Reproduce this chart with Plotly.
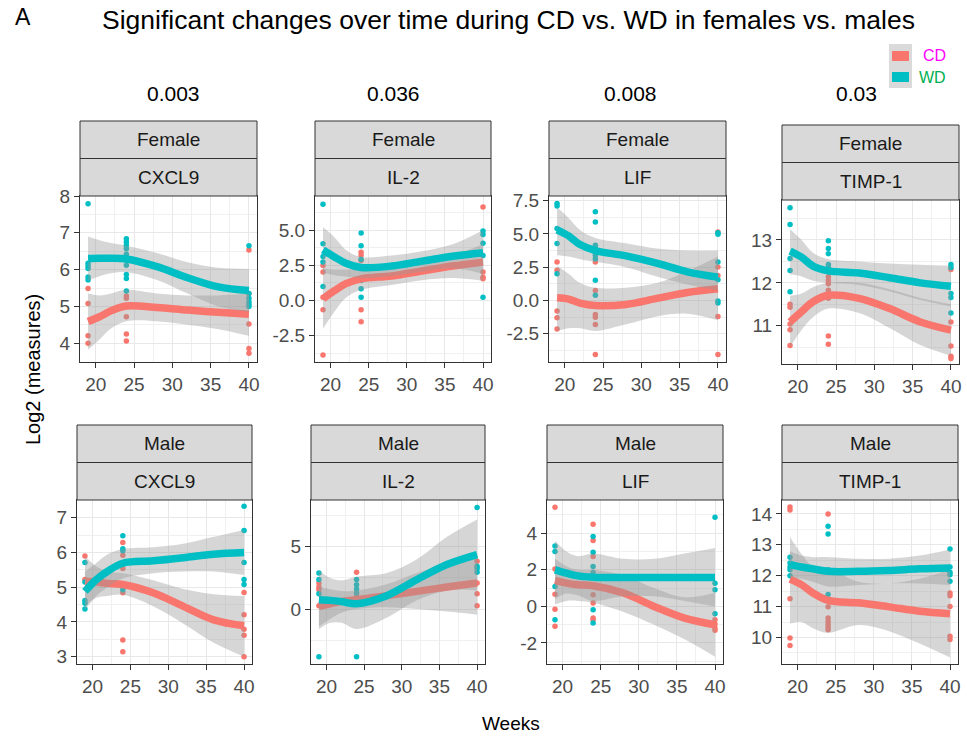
import plotly.graph_objects as go

# ---------------- data ----------------
WEEKS = [19, 24, 40]
FIT_WEEKS = [19, 20.5, 22, 24, 28, 32, 36, 40]
X_TICKS = [20, 25, 30, 35, 40]

# Female CXCL9
F_CXCL9_CD = [[5.49, 5.08, 4.2, 4.0], [5.28, 5.22, 4.72, 4.25, 4.06], [6.53, 5.35, 4.52, 3.86, 3.73]]
F_CXCL9_WD = [[7.79, 6.17, 6.1, 6.03, 5.8, 5.72], [6.84, 6.75, 6.66, 6.57, 6.42, 6.26, 6.12, 5.87, 5.76, 5.42], [6.65, 5.35, 5.22, 5.13, 5.06, 5.0]]
F_CXCL9_CD_FIT = [4.59, 4.72, 4.88, 5.01, 4.97, 4.9, 4.84, 4.79]
F_CXCL9_CD_LO = [3.82, 4.1, 4.4, 4.6, 4.6, 4.5, 4.38, 4.2]
F_CXCL9_CD_HI = [5.35, 5.3, 5.35, 5.45, 5.35, 5.3, 5.3, 5.35]
F_CXCL9_WD_FIT = [6.30, 6.31, 6.31, 6.29, 6.08, 5.78, 5.53, 5.43]
F_CXCL9_WD_LO = [5.7, 5.82, 5.9, 5.93, 5.72, 5.35, 5.0, 4.85]
F_CXCL9_WD_HI = [6.9, 6.8, 6.72, 6.65, 6.45, 6.2, 6.05, 6.02]

# Female IL-2
F_IL2_CD = [[2.49, 2.02, 0.24, -0.66, -3.87], [3.44, 3.2, 2.85, 2.37, -0.66, -1.5], [6.65, 2.02, 1.66, 1.54]]
F_IL2_WD = [[6.84, 4.04, 3.13, 2.73, 1.0], [4.8, 3.9, 2.92, 1.43, 0.83, 0.24], [4.94, 4.7, 4.08, 3.2, 0.24]]
F_IL2_CD_FIT = [0.12, 0.7, 1.2, 1.54, 1.75, 2.1, 2.45, 2.73]
F_IL2_CD_LO = [-2.0, -0.8, 0.2, 0.75, 1.1, 1.45, 1.6, 1.4]
F_IL2_CD_HI = [2.3, 2.2, 2.2, 2.3, 2.4, 2.7, 3.2, 4.0]
F_IL2_WD_FIT = [3.6, 3.1, 2.65, 2.35, 2.45, 2.8, 3.15, 3.4]
F_IL2_WD_LO = [2.0, 1.8, 1.7, 1.6, 1.75, 2.05, 2.3, 1.9]
F_IL2_WD_HI = [5.2, 4.5, 3.6, 3.1, 3.2, 3.5, 4.0, 5.0]

# Female LIF
F_LIF_CD = [[2.89, 2.26, -0.8, -1.31, -2.14], [2.89, 0.75, -1.06, -1.26, -1.81, -4.07], [5.15, 2.51, 1.88, -1.2, -4.07]]
F_LIF_WD = [[7.29, 7.09, 5.4, 4.27, 2.01], [6.66, 5.9, 4.15, 3.9, 3.64, 3.39, 3.14, 1.51, 0.38], [5.08, 4.97, 2.89, 1.56, -0.05, -0.2]]
F_LIF_CD_FIT = [0.2, 0.1, -0.2, -0.38, -0.3, 0.15, 0.6, 0.88]
F_LIF_CD_LO = [-2.3, -2.1, -2.1, -2.3, -1.8, -1.2, -1.0, -1.5]
F_LIF_CD_HI = [2.6, 2.0, 1.3, 0.95, 0.95, 1.3, 2.2, 3.3]
F_LIF_WD_FIT = [5.3, 4.85, 4.2, 3.75, 3.35, 2.8, 2.15, 1.75]
F_LIF_WD_LO = [3.4, 3.3, 3.1, 2.9, 2.5, 1.8, 1.2, 0.75]
F_LIF_WD_HI = [7.0, 6.2, 5.3, 4.7, 4.3, 3.9, 3.75, 3.75]

# Female TIMP-1
F_TIMP1_CD = [[11.5, 11.43, 11.04, 10.91, 10.54], [12.14, 12.06, 11.98, 11.83, 11.64, 10.76, 10.57], [12.31, 11.09, 10.53, 10.29, 10.24]]
F_TIMP1_WD = [[13.75, 13.36, 12.57, 12.29, 11.79], [12.98, 12.8, 12.68, 12.43, 12.36, 12.26], [12.43, 12.36, 11.75, 11.66, 11.3]]
F_TIMP1_CD_FIT = [11.09, 11.33, 11.56, 11.71, 11.64, 11.4, 11.09, 10.9]
F_TIMP1_CD_LO = [10.5, 10.9, 11.2, 11.4, 11.3, 10.95, 10.55, 10.3]
F_TIMP1_CD_HI = [11.7, 11.75, 11.9, 12.0, 12.0, 11.85, 11.65, 11.5]
F_TIMP1_WD_FIT = [12.74, 12.6, 12.39, 12.28, 12.23, 12.12, 12.0, 11.92]
F_TIMP1_WD_LO = [12.2, 12.15, 12.05, 12.0, 11.95, 11.8, 11.6, 11.45]
F_TIMP1_WD_HI = [13.25, 13.0, 12.7, 12.55, 12.5, 12.45, 12.42, 12.4]

# Male CXCL9
M_CXCL9_CD = [[5.9, 5.22], [6.29, 5.92, 5.54, 4.84, 3.48, 3.14], [4.85, 4.21, 3.79, 3.62, 3.0]]
M_CXCL9_WD = [[5.71, 5.15, 4.62, 4.54, 4.37], [6.48, 6.11, 6.05, 4.93], [7.33, 6.63, 5.71, 5.22, 5.08]]
M_CXCL9_CD_FIT = [5.17, 5.15, 5.11, 5.08, 4.84, 4.45, 4.06, 3.89]
M_CXCL9_CD_LO = [4.45, 4.7, 4.75, 4.78, 4.45, 3.95, 3.4, 3.0]
M_CXCL9_CD_HI = [5.9, 5.6, 5.45, 5.4, 5.2, 4.95, 4.8, 4.75]
M_CXCL9_WD_FIT = [4.88, 5.22, 5.46, 5.69, 5.76, 5.85, 5.95, 6.0]
M_CXCL9_WD_LO = [4.35, 4.75, 5.0, 5.25, 5.4, 5.45, 5.45, 5.35]
M_CXCL9_WD_HI = [5.45, 5.7, 5.95, 6.1, 6.15, 6.25, 6.45, 6.65]

# Male IL-2
M_IL2_CD = [[2.1, 1.77, 1.56, 0.27], [2.96, 1.02], [3.84, 2.1, 1.24, 0.27]]
M_IL2_WD = [[2.9, 2.37, 1.24, -3.82], [2.37, 1.96, 1.61, 1.29, -3.82], [8.15, 3.44, 3.23, 2.96]]
M_IL2_CD_FIT = [0.22, 0.43, 0.62, 0.75, 1.08, 1.42, 1.77, 2.1]
M_IL2_CD_LO = [-1.4, -0.8, -0.3, 0.0, 0.15, 0.0, -0.2, -0.45]
M_IL2_CD_HI = [1.8, 1.6, 1.45, 1.5, 2.0, 2.9, 3.7, 4.5]
M_IL2_WD_FIT = [0.75, 0.7, 0.6, 0.43, 1.08, 2.37, 3.58, 4.38]
M_IL2_WD_LO = [-1.6, -1.1, -1.1, -1.6, -0.7, 0.7, 1.5, 1.5]
M_IL2_WD_HI = [3.1, 2.5, 2.3, 2.6, 2.9, 4.0, 5.8, 7.2]

# Male LIF
M_LIF_CD = [[5.42, 2.04, 0.67, -0.15, -1.09], [4.49, 3.6, 2.73, 0.64, 0.18, -0.64, -0.73], [-0.73, -0.96, -1.18, -1.31]]
M_LIF_WD = [[3.31, 3.0, 1.09, -0.73], [3.82, 2.96, 2.18, 1.85, -0.18, -0.91], [4.87, 1.27, 0.91, -0.4]]
M_LIF_CD_FIT = [1.42, 1.27, 1.18, 1.13, 0.73, 0.0, -0.64, -1.0]
M_LIF_CD_LO = [0.1, 0.3, 0.3, 0.2, -0.3, -1.0, -1.8, -2.75]
M_LIF_CD_HI = [2.6, 2.2, 2.0, 2.0, 1.7, 1.0, 0.5, 0.75]
M_LIF_WD_FIT = [2.0, 1.82, 1.67, 1.6, 1.58, 1.58, 1.58, 1.58]
M_LIF_WD_LO = [0.4, 0.7, 0.6, 0.3, 0.55, 0.55, 0.3, 0.0]
M_LIF_WD_HI = [3.6, 3.0, 2.75, 2.9, 2.6, 2.6, 2.9, 3.2]

# Male TIMP-1
M_TIMP1_CD = [[14.22, 14.13, 11.25, 9.98, 9.74], [14.0, 10.99, 10.63, 10.52, 10.42, 10.34, 10.25], [11.44, 11.35, 11.0, 10.04, 9.93]]
M_TIMP1_WD = [[12.6, 12.41, 12.28, 12.19, 12.0], [13.6, 13.35, 12.19, 11.39], [12.86, 12.28, 12.11, 12.03, 11.82]]
M_TIMP1_CD_FIT = [11.89, 11.71, 11.44, 11.2, 11.12, 10.99, 10.85, 10.77]
M_TIMP1_CD_LO = [10.45, 10.5, 10.3, 10.15, 10.4, 10.2, 9.8, 9.35]
M_TIMP1_CD_HI = [13.25, 12.7, 12.3, 12.25, 11.8, 11.75, 11.9, 12.2]
M_TIMP1_WD_FIT = [12.36, 12.28, 12.22, 12.14, 12.14, 12.17, 12.22, 12.25]
M_TIMP1_WD_LO = [11.95, 11.9, 11.8, 11.65, 11.7, 11.75, 11.75, 11.7]
M_TIMP1_WD_HI = [12.8, 12.65, 12.6, 12.6, 12.55, 12.55, 12.65, 12.85]

P_VALUES = ["0.003", "0.036", "0.008", "0.03"]

# y tick values per panel
T1_YT = [4, 5, 6, 7, 8]
T2_YT = [-2.5, 0, 2.5, 5]
T3_YT = [-2.5, 0, 2.5, 5, 7.5]
T4_YT = [11, 12, 13]
B1_YT = [3, 4, 5, 6, 7]
B2_YT = [0, 5]
B3_YT = [-2, 0, 2, 4]
B4_YT = [10, 11, 12, 13, 14]

# ---------------- styling / layout ----------------
W, H = 967, 739
CD_COL = "#F8766D"
WD_COL = "#00BFC4"
RIB = "rgba(153,153,153,0.4)"
FONT = "Liberation Sans, Arial, sans-serif"


def px(x):
    return x / W


def py(y):
    return 1 - y / H


panels = [
    ("Female", "CXCL9", F_CXCL9_CD, F_CXCL9_WD,
     (F_CXCL9_CD_FIT, F_CXCL9_CD_LO, F_CXCL9_CD_HI, F_CXCL9_WD_FIT, F_CXCL9_WD_LO, F_CXCL9_WD_HI),
     [3.49, 8.0], T1_YT, 0, (80, 257, 196, 362), 121),
    ("Female", "IL-2", F_IL2_CD, F_IL2_WD,
     (F_IL2_CD_FIT, F_IL2_CD_LO, F_IL2_CD_HI, F_IL2_WD_FIT, F_IL2_WD_LO, F_IL2_WD_HI),
     [-4.37, 7.43], T2_YT, 1, (315, 491, 196, 362), 121),
    ("Female", "LIF", F_LIF_CD, F_LIF_WD,
     (F_LIF_CD_FIT, F_LIF_CD_LO, F_LIF_CD_HI, F_LIF_WD_FIT, F_LIF_WD_LO, F_LIF_WD_HI),
     [-4.63, 7.85], T3_YT, 1, (549, 726, 196, 362), 121),
    ("Female", "TIMP-1", F_TIMP1_CD, F_TIMP1_WD,
     (F_TIMP1_CD_FIT, F_TIMP1_CD_LO, F_TIMP1_CD_HI, F_TIMP1_WD_FIT, F_TIMP1_WD_LO, F_TIMP1_WD_HI),
     [10.11, 13.93], T4_YT, 0, (782, 959, 200, 364), 125),
    ("Male", "CXCL9", M_CXCL9_CD, M_CXCL9_WD,
     (M_CXCL9_CD_FIT, M_CXCL9_CD_LO, M_CXCL9_CD_HI, M_CXCL9_WD_FIT, M_CXCL9_WD_LO, M_CXCL9_WD_HI),
     [2.79, 7.51], B1_YT, 0, (77, 252, 500, 664), 425),
    ("Male", "IL-2", M_IL2_CD, M_IL2_WD,
     (M_IL2_CD_FIT, M_IL2_CD_LO, M_IL2_CD_HI, M_IL2_WD_FIT, M_IL2_WD_LO, M_IL2_WD_HI),
     [-4.41, 8.76], B2_YT, 0, (311, 485, 500, 664), 425),
    ("Male", "LIF", M_LIF_CD, M_LIF_WD,
     (M_LIF_CD_FIT, M_LIF_CD_LO, M_LIF_CD_HI, M_LIF_WD_FIT, M_LIF_WD_LO, M_LIF_WD_HI),
     [-3.15, 5.82], B3_YT, 0, (547, 723, 500, 664), 425),
    ("Male", "TIMP-1", M_TIMP1_CD, M_TIMP1_WD,
     (M_TIMP1_CD_FIT, M_TIMP1_CD_LO, M_TIMP1_CD_HI, M_TIMP1_WD_FIT, M_TIMP1_WD_LO, M_TIMP1_WD_HI),
     [9.14, 14.45], B4_YT, 0, (782, 958, 500, 664), 425),
]

fig = go.Figure()
shapes = []
annotations = []
layout = {}

for i, (sex, gene, cd, wd, fits, yr, yt, dec, box, stop) in enumerate(panels, start=1):
    xa = "x" if i == 1 else f"x{i}"
    ya = "y" if i == 1 else f"y{i}"
    L, R, T, B = box
    for pts, col in ((cd, CD_COL), (wd, WD_COL)):
        xs, ys = [], []
        for wk, vals in zip(WEEKS, pts):
            xs += [wk] * len(vals)
            ys += vals
        fig.add_trace(go.Scatter(x=xs, y=ys, mode="markers", xaxis=xa, yaxis=ya,
                                 marker=dict(size=5.5, color=col, line=dict(width=0)),
                                 showlegend=False, hoverinfo="skip"))
    cfit, clo, chi, wfit, wlo, whi = fits
    for fit, lo, hi, col in ((cfit, clo, chi, CD_COL), (wfit, wlo, whi, WD_COL)):
        fig.add_trace(go.Scatter(x=FIT_WEEKS, y=lo, mode="lines", xaxis=xa, yaxis=ya,
                                 line=dict(width=0, shape="spline", color=RIB),
                                 showlegend=False, hoverinfo="skip"))
        fig.add_trace(go.Scatter(x=FIT_WEEKS, y=hi, mode="lines", xaxis=xa, yaxis=ya,
                                 line=dict(width=0, shape="spline", color=RIB),
                                 fill="tonexty", fillcolor=RIB,
                                 showlegend=False, hoverinfo="skip"))
        fig.add_trace(go.Scatter(x=FIT_WEEKS, y=fit, mode="lines", xaxis=xa, yaxis=ya,
                                 line=dict(width=7.5, shape="spline", color=col),
                                 showlegend=False, hoverinfo="skip"))

    step = yt[1] - yt[0]
    yminor = [v for v in [yt[0] - step / 2 + k * step for k in range(len(yt) + 2)]
              if yr[0] < v < yr[1]]

    axis_common = dict(showline=True, mirror=True, linecolor="#333333", linewidth=1,
                       ticks="outside", ticklen=5, tickwidth=1, tickcolor="#333333",
                       tickfont=dict(family=FONT, size=19, color="#4D4D4D"),
                       showgrid=True, gridcolor="#E8E8E8", gridwidth=1.2, zeroline=False,
                       automargin=False, fixedrange=True)
    layout["xaxis" if i == 1 else f"xaxis{i}"] = dict(
        axis_common, domain=[px(L), px(R)], anchor=ya, range=[17.95, 41.05],
        tickmode="array", tickvals=X_TICKS, ticktext=[str(v) for v in X_TICKS],
        minor=dict(tickmode="array", tickvals=[22.5, 27.5, 32.5, 37.5], showgrid=True,
                   gridcolor="#F0F0F0", gridwidth=0.8, ticks=""))
    layout["yaxis" if i == 1 else f"yaxis{i}"] = dict(
        axis_common, domain=[py(B), py(T)], anchor=xa, range=yr,
        tickmode="array", tickvals=yt, ticktext=[f"{v:.{dec}f}" for v in yt],
        minor=dict(tickmode="array", tickvals=yminor, showgrid=True,
                   gridcolor="#F0F0F0", gridwidth=0.8, ticks=""))

    mid = stop + (T - stop) / 2
    for (y0, y1, label) in ((stop, mid, sex), (mid, T, gene)):
        shapes.append(dict(type="rect", xref="paper", yref="paper",
                           x0=px(L), x1=px(R), y0=py(y1), y1=py(y0),
                           fillcolor="#D9D9D9", line=dict(color="#333333", width=1)))
        annotations.append(dict(xref="paper", yref="paper", x=px((L + R) / 2), y=py((y0 + y1) / 2),
                                text=label, showarrow=False, xanchor="center", yanchor="middle",
                                font=dict(family=FONT, size=19, color="#1A1A1A")))

for txt, cx in zip(P_VALUES, [173, 393, 630, 856]):
    annotations.append(dict(xref="paper", yref="paper", x=px(cx), y=py(93), text=txt,
                            showarrow=False, xanchor="center", yanchor="middle",
                            font=dict(family=FONT, size=21, color="black")))

annotations.append(dict(xref="paper", yref="paper", x=px(508), y=py(20),
                        text="Significant changes over time during CD vs. WD in females vs. males",
                        showarrow=False, xanchor="center", yanchor="middle",
                        font=dict(family=FONT, size=26.5, color="black")))
annotations.append(dict(xref="paper", yref="paper", x=px(23), y=py(17), text="A",
                        showarrow=False, xanchor="center", yanchor="middle",
                        font=dict(family=FONT, size=23, color="black")))
annotations.append(dict(xref="paper", yref="paper", x=px(33), y=py(370), text="Log2 (measures)",
                        showarrow=False, xanchor="center", yanchor="middle", textangle=-90,
                        font=dict(family=FONT, size=20, color="black")))
annotations.append(dict(xref="paper", yref="paper", x=px(511), y=py(723), text="Weeks",
                        showarrow=False, xanchor="center", yanchor="middle",
                        font=dict(family=FONT, size=19, color="black")))

shapes.append(dict(type="rect", xref="paper", yref="paper", x0=px(889), x1=px(912),
                   y0=py(88), y1=py(44), fillcolor="#DADADA", line=dict(width=0)))
shapes.append(dict(type="rect", xref="paper", yref="paper", x0=px(892), x1=px(909),
                   y0=py(61), y1=py(51), fillcolor=CD_COL, line=dict(width=0)))
shapes.append(dict(type="rect", xref="paper", yref="paper", x0=px(892), x1=px(909),
                   y0=py(82), y1=py(72), fillcolor=WD_COL, line=dict(width=0)))
annotations.append(dict(xref="paper", yref="paper", x=px(921), y=py(56), text="CD",
                        showarrow=False, xanchor="left", yanchor="middle",
                        font=dict(family=FONT, size=16, color="#FF00FF")))
annotations.append(dict(xref="paper", yref="paper", x=px(917), y=py(78), text="WD",
                        showarrow=False, xanchor="left", yanchor="middle",
                        font=dict(family=FONT, size=16, color="#00B050")))

fig.update_layout(**layout)
fig.update_layout(template="none", width=W, height=H, margin=dict(l=0, r=0, t=0, b=0, pad=0),
                  paper_bgcolor="white", plot_bgcolor="white", showlegend=False,
                  shapes=shapes, annotations=annotations, font=dict(family=FONT))

fig.write_html("out.html", config={"displayModeBar": False})
